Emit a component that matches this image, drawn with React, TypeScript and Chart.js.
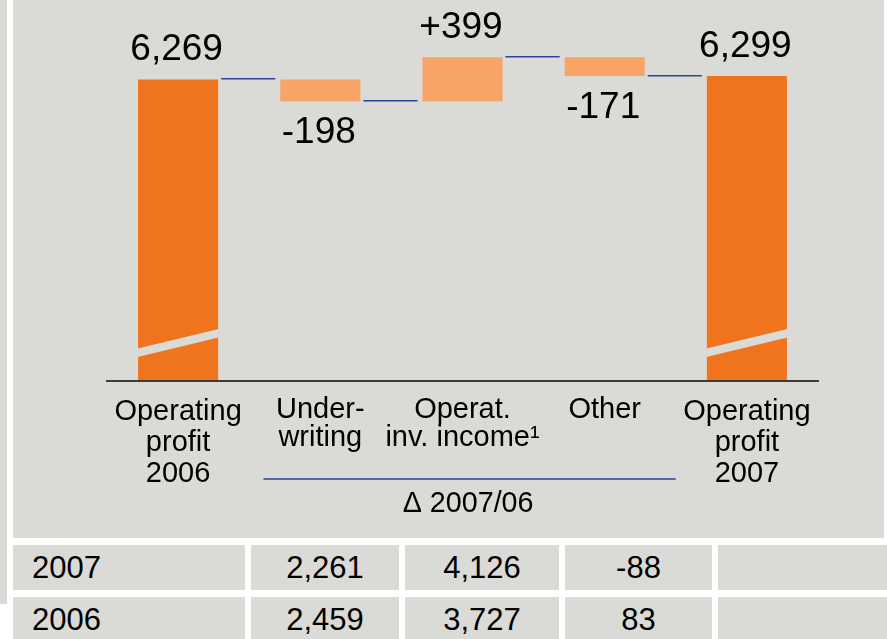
import React, { useEffect, useRef } from "react";
import { Chart, registerables } from "chart.js";

Chart.register(...registerables);

// ---- data ----
const CATEGORIES: string[][] = [
  ["Operating", "profit", "2006"],
  ["Under-", "writing"],
  ["Operat.", "inv. income¹"],
  ["Other"],
  ["Operating", "profit", "2007"],
];
const STEP_VALUES = [6269, -198, 399, -171, 6299];
const IS_TOTAL = [true, false, false, false, true];
const VALUE_LABELS = ["6,269", "-198", "+399", "-171", "6,299"];
const AXIS_MIN = 3534;
const AXIS_MAX = 6989;
const DELTA_LABEL = "Δ 2007/06";

const TABLE_YEARS = ["2007", "2006"];
const TABLE_UNDERWRITING = ["2,261", "2,459"];
const TABLE_INV_INCOME = ["4,126", "3,727"];
const TABLE_OTHER = ["-88", "83"];

// ---- styles ----
const FONT = '"Liberation Sans", Arial, Helvetica, sans-serif';
const BG = "#dadad6";
const DARK_ORANGE = "#f0731e";
const LIGHT_ORANGE = "#f8a466";
const BLUE = "#2c4494";

export default function App() {
  const canvasRef = useRef<HTMLCanvasElement | null>(null);

  useEffect(() => {
    const canvas = canvasRef.current;
    if (!canvas) return;

    const ranges: number[][] = [];
    const levels: number[] = [];
    let run = 0;
    STEP_VALUES.forEach((v, i) => {
      if (IS_TOTAL[i]) {
        ranges.push([AXIS_MIN, v]);
        run = v;
      } else {
        ranges.push([run, run + v]);
        run += v;
      }
      levels.push(run);
    });

    const decor = {
      id: "decor",
      afterDatasetsDraw(chart: any) {
        const ctx = chart.ctx as CanvasRenderingContext2D;
        const meta = chart.getDatasetMeta(0);
        const y = chart.scales.y;
        ctx.save();
        // axis breaks on total bars
        meta.data.forEach((bar: any, i: number) => {
          if (!IS_TOTAL[i]) return;
          const l = bar.x - bar.width / 2;
          const r = bar.x + bar.width / 2;
          const b = bar.base;
          ctx.beginPath();
          ctx.moveTo(l - 0.5, b - 32.5);
          ctx.lineTo(r + 0.5, b - 52);
          ctx.lineTo(r + 0.5, b - 43.5);
          ctx.lineTo(l - 0.5, b - 24);
          ctx.closePath();
          ctx.fillStyle = BG;
          ctx.fill();
        });
        // connectors
        ctx.strokeStyle = BLUE;
        ctx.lineWidth = 1.5;
        for (let i = 0; i < meta.data.length - 1; i++) {
          const a = meta.data[i];
          const c = meta.data[i + 1];
          const py = Math.round(y.getPixelForValue(levels[i])) - 0.25;
          ctx.beginPath();
          ctx.moveTo(a.x + a.width / 2 + 3, py);
          ctx.lineTo(c.x - c.width / 2 - 5, py);
          ctx.stroke();
        }
        // value labels
        ctx.fillStyle = "#000";
        ctx.font = `37px ${FONT}`;
        ctx.textAlign = "center";
        ctx.textBaseline = "alphabetic";
        meta.data.forEach((bar: any, i: number) => {
          const top = Math.min(bar.y, bar.base);
          const bottom = Math.max(bar.y, bar.base);
          if (IS_TOTAL[i] || STEP_VALUES[i] > 0) {
            ctx.fillText(VALUE_LABELS[i], bar.x - 1.5, top - 19.5);
          } else {
            ctx.fillText(VALUE_LABELS[i], bar.x - 1.5, bottom + 41.5);
          }
        });
        ctx.restore();
      },
      afterDraw(chart: any) {
        const ctx = chart.ctx as CanvasRenderingContext2D;
        const x = chart.scales.x;
        const x0 = x.getPixelForValue(0.6);
        const x1 = x.getPixelForValue(3.5);
        ctx.save();
        ctx.strokeStyle = BLUE;
        ctx.lineWidth = 1.5;
        ctx.beginPath();
        ctx.moveTo(x0, 479);
        ctx.lineTo(x1, 479);
        ctx.stroke();
        ctx.fillStyle = "#000";
        ctx.font = `28.7px ${FONT}`;
        ctx.textAlign = "center";
        ctx.textBaseline = "alphabetic";
        ctx.fillText(DELTA_LABEL, (x0 + x1) / 2 - 1.5, 512);
        ctx.restore();
      },
    };

    const chart = new Chart(canvas, {
      type: "bar",
      data: {
        labels: CATEGORIES as any,
        datasets: [
          {
            data: ranges as any,
            backgroundColor: IS_TOTAL.map((t) => (t ? DARK_ORANGE : LIGHT_ORANGE)),
            borderWidth: 0,
            barPercentage: 0.563,
            categoryPercentage: 1,
          },
        ],
      },
      options: {
        responsive: false,
        animation: false,
        layout: { padding: { left: 107, right: 69, top: 0, bottom: 0 } },
        plugins: {
          legend: { display: false },
          tooltip: { enabled: false },
        },
        scales: {
          x: {
            grid: { display: false, drawTicks: false },
            border: { display: true, color: "#3c3c3c", width: 2, z: 1 } as any,
            ticks: {
              color: "#000",
              padding: 15,
              maxRotation: 0,
              minRotation: 0,
              autoSkip: false,
              font: ((c: any) => ({
                family: FONT,
                size: 29,
                lineHeight: c.index === 0 || c.index === 4 ? 31 / 29 : 28 / 29,
              })) as any,
            },
            afterFit: (s: any) => {
              s.height = 157;
            },
          },
          y: { display: false, min: AXIS_MIN, max: AXIS_MAX },
        },
      },
      plugins: [decor],
    });

    return () => chart.destroy();
  }, []);

  const cols = [
    { left: 13, width: 232 },
    { left: 251, width: 148 },
    { left: 405, width: 154 },
    { left: 565, width: 147 },
    { left: 718, width: 169 },
  ];
  const rowsTop = [545, 597];

  const cell = (left: number, top: number, width: number, text: string, align: "left" | "center", key: string) => (
    <div
      key={key}
      style={{
        position: "absolute",
        left,
        top,
        width,
        height: 45,
        background: BG,
        lineHeight: "45px",
        fontSize: 31,
        color: "#000",
        textAlign: align,
        paddingLeft: align === "left" ? 19 : 0,
        boxSizing: "border-box",
        whiteSpace: "nowrap",
      }}
    >
      {text}
    </div>
  );

  return (
    <div
      style={{
        position: "absolute",
        left: 0,
        top: 0,
        width: 887,
        height: 639,
        overflow: "hidden",
        background: "#ffffff",
        fontFamily: FONT,
      }}
    >
      <div style={{ position: "absolute", left: 0, top: 0, width: 7, height: 604, background: BG }} />
      <div style={{ position: "absolute", left: 13, top: 0, width: 871, height: 538, background: BG }} />
      <canvas
        ref={canvasRef}
        width={887}
        height={538}
        style={{ position: "absolute", left: 0, top: 0, width: 887, height: 538 }}
      />
      {TABLE_YEARS.map((yr, r) => (
        <React.Fragment key={yr}>
          {cell(cols[0].left, rowsTop[r], cols[0].width, yr, "left", `y${r}`)}
          {cell(cols[1].left, rowsTop[r], cols[1].width, TABLE_UNDERWRITING[r], "center", `u${r}`)}
          {cell(cols[2].left, rowsTop[r], cols[2].width, TABLE_INV_INCOME[r], "center", `i${r}`)}
          {cell(cols[3].left, rowsTop[r], cols[3].width, TABLE_OTHER[r], "center", `o${r}`)}
          {cell(cols[4].left, rowsTop[r], cols[4].width, "", "center", `e${r}`)}
        </React.Fragment>
      ))}
    </div>
  );
}
